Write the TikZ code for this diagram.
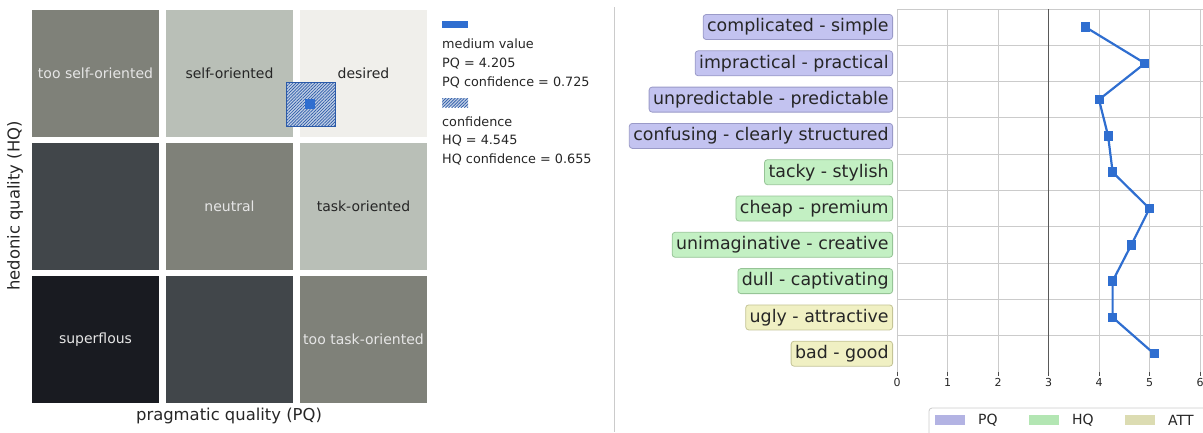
\documentclass[tikz,border=0pt]{standalone}
\usepackage{fontspec}
\setmainfont{DejaVu Sans}
\usetikzlibrary{patterns.meta}
\definecolor{cMid}{HTML}{7F8179}
\definecolor{cLight}{HTML}{B9BFB7}
\definecolor{cWhite}{HTML}{F0EFEB}
\definecolor{cDark}{HTML}{41464A}
\definecolor{cBlack}{HTML}{191B21}
\definecolor{txtLight}{HTML}{E6E6E6}
\definecolor{txtDark}{HTML}{262626}
\definecolor{mblue}{HTML}{2F6ED0}
\definecolor{hblue}{HTML}{2B5AA8}
\definecolor{pqFill}{HTML}{C3C3F0}
\definecolor{pqDraw}{HTML}{9A9AC8}
\definecolor{hqFill}{HTML}{C3F0C3}
\definecolor{hqDraw}{HTML}{96C496}
\definecolor{atFill}{HTML}{F0F0C3}
\definecolor{atDraw}{HTML}{C4C496}
\definecolor{pqPatch}{HTML}{B3B3E3}
\definecolor{hqPatch}{HTML}{B3E6B3}
\definecolor{atPatch}{HTML}{DCDCB2}
\definecolor{gridc}{HTML}{CBCBCB}
\tikzset{
  cell/.style={minimum width=127pt,minimum height=127pt,inner sep=0pt,font=\fontsize{14}{16}\selectfont},
  lbl/.style={anchor=east,rounded corners=3pt,line width=0.8pt,minimum height=25pt,inner xsep=4pt,inner ysep=0pt,font=\fontsize{17.4}{19}\selectfont,text=txtDark},
  pqbox/.style={lbl,fill=pqFill,draw=pqDraw},
  hqbox/.style={lbl,fill=hqFill,draw=hqDraw},
  attbox/.style={lbl,fill=atFill,draw=atDraw},
  legtxt/.style={anchor=west,inner sep=0pt,font=\fontsize{12.8}{14}\selectfont,text=txtDark},
  ticklbl/.style={anchor=north,inner sep=0pt,font=\fontsize{11}{13}\selectfont,text=txtDark},
  marker/.style={fill=mblue,draw=none,minimum width=9pt,minimum height=9.5pt,inner sep=0pt},
  gline/.style={gridc,line width=0.9pt},
}
\begin{document}
\begin{tikzpicture}[x=1pt,y=-1pt]
\useasboundingbox (0,0) rectangle (1203,432);
\clip (0,0) rectangle (1203,432);
% ---- left grid ----
\node[cell,fill=cMid,text=txtLight] (c11) at (95.5,73.5) {too self-oriented};
\node[cell,fill=cLight,text=txtDark] (c12) at (229.5,73.5) {self-oriented};
\node[cell,fill=cWhite,text=txtDark] (c13) at (363.5,73.5) {desired};
\node[cell,fill=cDark] (c21) at (95.5,206.5) {};
\node[cell,fill=cMid,text=txtLight] (c22) at (229.5,206.5) {neutral};
\node[cell,fill=cLight,text=txtDark] (c23) at (363.5,206.5) {task-oriented};
\node[cell,fill=cBlack,text=txtLight] (c31) at (95.5,339.5) {superflous};
\node[cell,fill=cDark] (c32) at (229.5,339.5) {};
\node[cell,fill=cMid,text=txtLight] (c33) at (363.5,339.5) {too task-oriented};
% confidence and medium value
\fill[hblue!30] (286,82) rectangle (335,126);
\fill[pattern={Lines[angle=45,distance=2.2pt,line width=0.7pt]},pattern color=hblue] (286,82) rectangle (335,126);
\draw[hblue,line width=0.6pt] (286,82) rectangle (335,126);
\node[fill=mblue,minimum width=10pt,minimum height=10pt,inner sep=0pt] (mv) at (310,104) {};
% axis labels
\node[rotate=90,font=\fontsize{16.4}{18}\selectfont,text=txtDark] (ylab) at (15,206) {hedonic quality (HQ)};
\node[font=\fontsize{16.4}{18}\selectfont,text=txtDark] (xlab) at (229,416) {pragmatic quality (PQ)};
% ---- legend ----
\fill[mblue] (442,21) rectangle (468,28);
\node[legtxt] (l1) at (442,44) {medium value};
\node[legtxt] (l2) at (442,63.5) {PQ = 4.205};
\node[legtxt] (l3) at (442,82.5) {PQ confidence = 0.725};
\fill[hblue!30] (442,98) rectangle (468,107);
\fill[pattern={Lines[angle=45,distance=2.2pt,line width=0.7pt]},pattern color=hblue] (442,98) rectangle (468,107);
\node[legtxt] (l4) at (442,122) {confidence};
\node[legtxt] (l5) at (442,141) {HQ = 4.545};
\node[legtxt] (l6) at (442,159.5) {HQ confidence = 0.655};
% separator
\draw[gridc,line width=1pt] (614,7) -- (614,432);
% ---- right chart ----
\foreach \i in {1,2,4,5,6} {\draw[gline] (897+50.5*\i,9) -- (897+50.5*\i,372);}
\foreach \j in {0,...,9} {\draw[gline] (897,9+36.3*\j) -- (1203,9+36.3*\j);}
\draw[gline] (897,9) -- (897,372);
\draw[black!65,line width=1pt] (1048.5,9) -- (1048.5,372);
\foreach \i in {0,...,6} {\draw[black!70,line width=0.8pt] (897+50.5*\i,372) -- (897+50.5*\i,376);
  \node[ticklbl] (t\i) at (897+50.5*\i,378.5) {\i};}
% labels
\node[pqbox] (r1) at (893,27) {complicated - simple};
\node[pqbox] (r2) at (893,63.3) {impractical - practical};
\node[pqbox] (r3) at (893,99.6) {unpredictable - predictable};
\node[pqbox] (r4) at (893,135.9) {confusing - clearly structured};
\node[hqbox] (r5) at (893,172.2) {tacky - stylish};
\node[hqbox] (r6) at (893,208.5) {cheap - premium};
\node[hqbox] (r7) at (893,244.8) {unimaginative - creative};
\node[hqbox] (r8) at (893,281.1) {dull - captivating};
\node[attbox] (r9) at (893,317.4) {ugly - attractive};
\node[attbox] (r10) at (893,353.7) {bad - good};
% data
\foreach \n/\v in {1/3.73,2/4.91,3/4.0,4/4.18,5/4.27,6/5.0,7/4.64,8/4.27,9/4.27,10/5.09}
  {\coordinate (p\n) at (897+50.5*\v,27+36.3*\n-36.3);}
\draw[mblue,line width=2.2pt,line join=round] (p1)--(p2)--(p3)--(p4)--(p5)--(p6)--(p7)--(p8)--(p9)--(p10);
\foreach \n in {1,...,10} {\node[marker] (m\n) at (p\n) {};}
% bottom legend
\draw[gridc,line width=0.8pt,rounded corners=3pt,fill=white] (929,408) rectangle (1215,445);
\fill[pqPatch] (935,415) rectangle (965,425);
\node[legtxt,font=\fontsize{14}{16}\selectfont] (lgpq) at (978,420.5) {PQ};
\fill[hqPatch] (1029,415) rectangle (1059,425);
\node[legtxt,font=\fontsize{14}{16}\selectfont] (lghq) at (1072,420.5) {HQ};
\fill[atPatch] (1125,415) rectangle (1155,425);
\node[legtxt,font=\fontsize{14}{16}\selectfont] (lgat) at (1168,420.5) {ATT};
\end{tikzpicture}
\end{document}
